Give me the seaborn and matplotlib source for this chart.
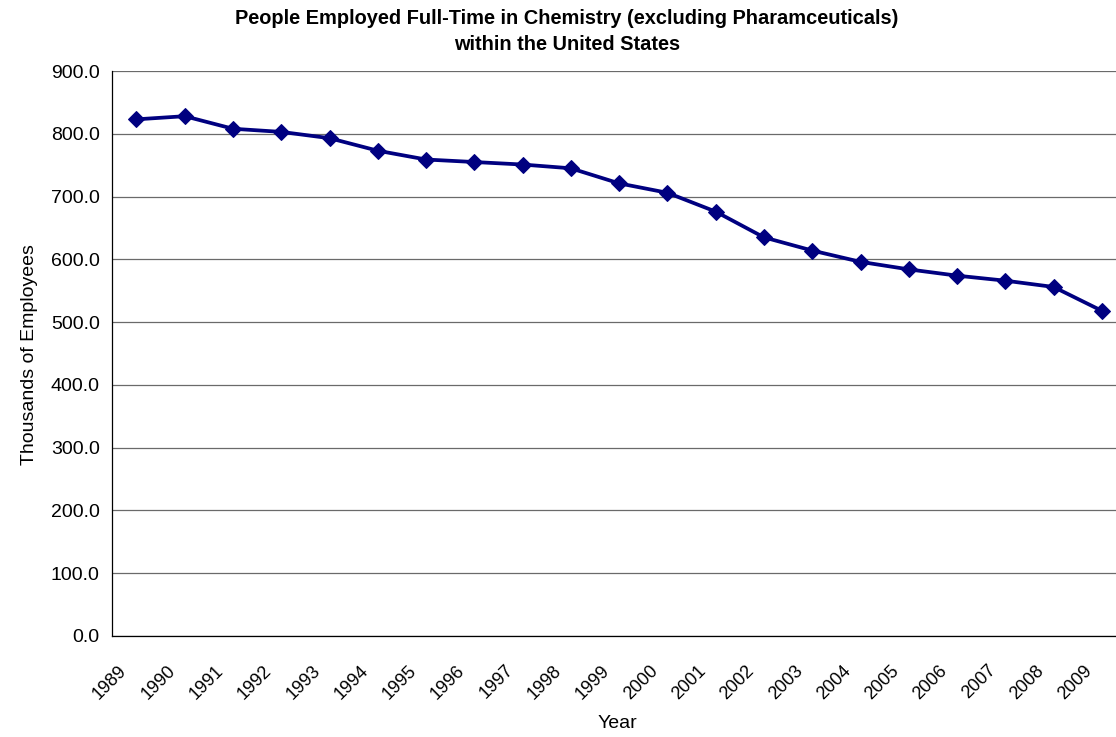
import matplotlib
matplotlib.use("Agg")
import matplotlib.pyplot as plt
import seaborn as sns
import pandas as pd
import numpy as np

years = ["1989", "1990", "1991", "1992", "1993", "1994", "1995", "1996", "1997", "1998",
         "1999", "2000", "2001", "2002", "2003", "2004", "2005", "2006", "2007", "2008", "2009"]
employees = [823, 828, 808, 803, 793, 773, 759, 755, 751, 745,
             721, 706, 676, 635, 614, 596, 584, 574, 566, 556, 518]
y_ticks = [0, 100, 200, 300, 400, 500, 600, 700, 800, 900]

title = "People Employed Full-Time in Chemistry (excluding Pharamceuticals)\nwithin the United States"
x_label = "Year"
y_label = "Thousands of Employees"

sns.set_style("white")
plt.rcParams["font.family"] = ["Liberation Sans", "DejaVu Sans"]
plt.rcParams["text.color"] = "black"
plt.rcParams["xtick.color"] = "black"
plt.rcParams["ytick.color"] = "black"
plt.rcParams["axes.labelcolor"] = "black"

W, H = 1116, 737
fig = plt.figure(figsize=(W / 100, H / 100), dpi=100)
left, right, bottom, top = 112.3, 1126.0, 636.0, 71.0
ax = fig.add_axes([left / W, 1 - bottom / H, (right - left) / W, (bottom - top) / H])

df = pd.DataFrame({"pos": np.arange(len(years)), "val": employees})
sns.lineplot(data=df, x="pos", y="val", ax=ax, color="#000080", linewidth=2.7,
             marker="D", markersize=8.5, markeredgecolor="#000080", markerfacecolor="#000080",
             clip_on=False, zorder=5)

ax.set_xlim(-0.5, len(years) - 0.5)
ax.set_ylim(0, 900)
ax.set_yticks(y_ticks)
ax.set_yticklabels([f"{v:.1f}" for v in y_ticks], fontsize=14)
ax.yaxis.grid(True, color="#6a6a6a", linewidth=0.9)
ax.set_axisbelow(True)

# category labels sit slightly left of the category centre, as in the original
ax.set_xticks(np.arange(len(years)) - 0.25)
ax.set_xticklabels(years, rotation=45, ha="right", va="center", rotation_mode="anchor", fontsize=13)
ax.set_xticks(np.arange(len(years) + 1) - 0.5, minor=True)
ax.tick_params(axis="x", which="major", length=0, pad=23)
ax.tick_params(axis="x", which="minor", length=5, width=0.9, color="black", direction="out")
ax.tick_params(axis="y", which="major", length=5, width=0.9, color="black", direction="out", pad=4)

for s in ["top", "right"]:
    ax.spines[s].set_visible(False)
for s in ["left", "bottom"]:
    ax.spines[s].set_color("black")
    ax.spines[s].set_linewidth(0.9)

ax.set_xlabel("")
ax.set_ylabel("")
fig.text(567 / W, 1 - 31.5 / H, title, ha="center", va="center", fontsize=14.4,
         fontweight="bold", linespacing=1.5)
fig.text(617 / W, 1 - 723 / H, x_label, ha="center", va="center", fontsize=14)
fig.text(30 / W, 1 - 355 / H, y_label, ha="center", va="center", fontsize=14, rotation=90)

fig.savefig("out.png", dpi=100)
